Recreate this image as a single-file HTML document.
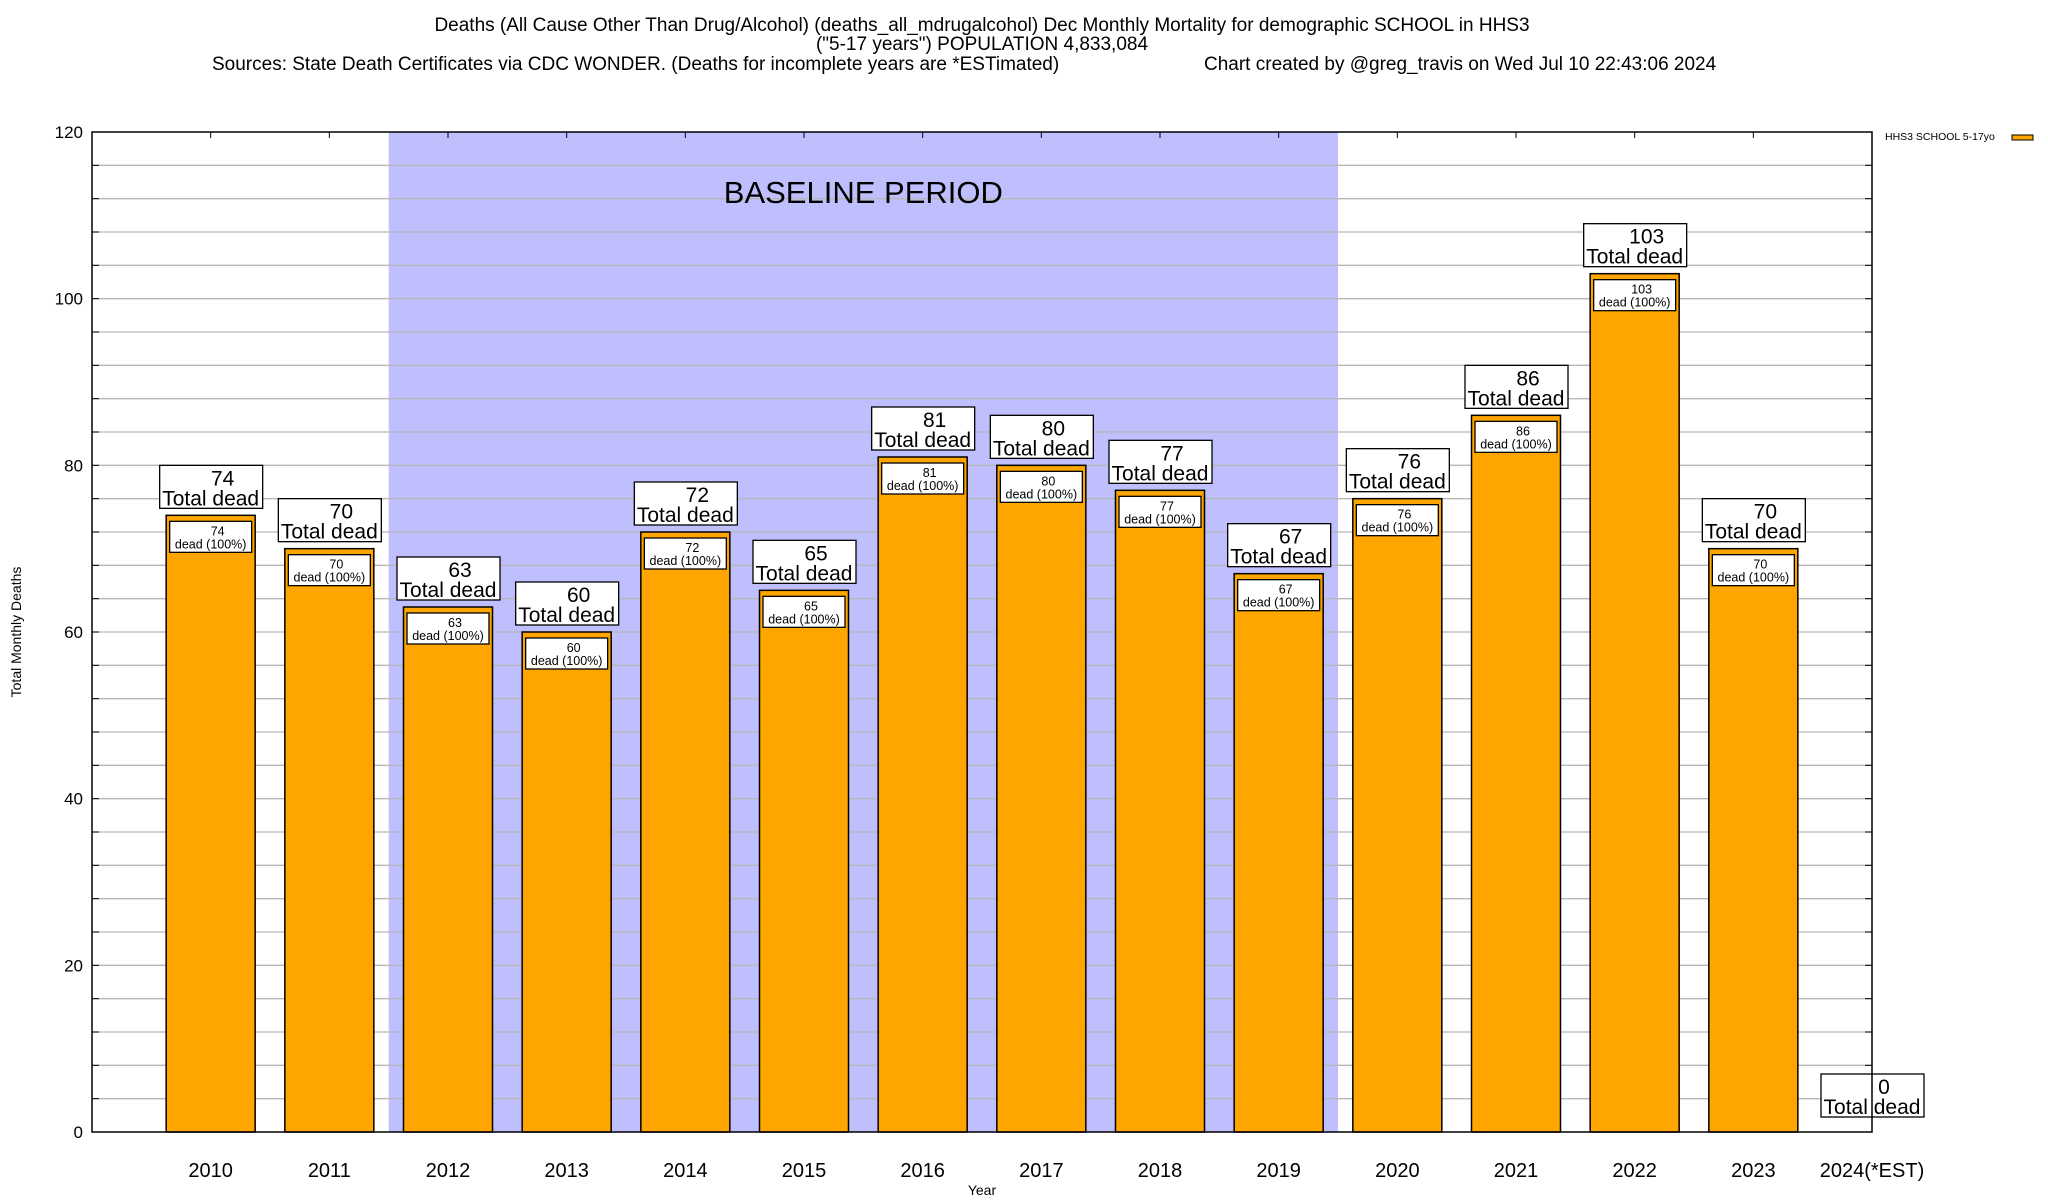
<!DOCTYPE html>
<html><head><meta charset="utf-8"><style>
body{margin:0;background:#fff}
svg{display:block;font-family:"Liberation Sans",Arial,sans-serif}
</style></head><body>
<svg id="chart" width="2048" height="1200" viewBox="0 0 2048 1200" xmlns="http://www.w3.org/2000/svg">
<g font-size="19" fill="#000">
<text x="982" y="31" text-anchor="middle">Deaths (All Cause Other Than Drug/Alcohol) (deaths_all_mdrugalcohol) Dec Monthly Mortality for demographic SCHOOL in HHS3</text>
<text x="982" y="50" text-anchor="middle">("5-17 years") POPULATION 4,833,084</text>
<text x="212" y="70">Sources: State Death Certificates via CDC WONDER. (Deaths for incomplete years are *ESTimated)</text>
<text x="1204" y="70">Chart created by @greg_travis on Wed Jul 10 22:43:06 2024</text>
</g>
<g id="plot"></g>
</svg>
<script>
const categories=["2010","2011","2012","2013","2014","2015","2016","2017","2018","2019","2020","2021","2022","2023","2024(*EST)"];
const values=[74,70,63,60,72,65,81,80,77,67,76,86,103,70,0];
const yTicks=[0,20,40,60,80,100,120];
const baselineRange=[2012,2019];
const L=92,T=132,R=1872,B=1132;
const NS="http://www.w3.org/2000/svg";
const g=document.getElementById('plot');
const X=i=>L+(R-L)*(i+1)/15;
const Y=v=>B-(B-T)*v/120;
function el(tag,attrs,parent){const e=document.createElementNS(NS,tag);for(const k in attrs)e.setAttribute(k,attrs[k]);(parent||g).appendChild(e);return e;}
const bi0=categories.indexOf(String(baselineRange[0])),bi1=categories.indexOf(String(baselineRange[1]));
const shade=el('rect',{x:X(bi0-0.5),y:T,width:X(bi1+0.5)-X(bi0-0.5),height:B-T,fill:'#bfbffd'});


for(let v=4;v<120;v+=4){const ln=el('line',{x1:L,x2:R,y1:Y(v),y2:Y(v),stroke:'#b8b8b8','stroke-width':1.3});


el('line',{x1:L,x2:L+7,y1:Y(v),y2:Y(v),stroke:'#000'});el('line',{x1:R-7,x2:R,y1:Y(v),y2:Y(v),stroke:'#000'});}
const bt=el('text',{x:(X(bi0-0.5)+X(bi1+0.5))/2,y:203,'text-anchor':'middle','font-size':31});
bt.textContent='BASELINE PERIOD';


yTicks.forEach(v=>{const t=el('text',{x:83,y:Y(v)+6,'text-anchor':'end','font-size':17});t.textContent=v;

});
values.forEach((v,i)=>{
 const cx=X(i),w=89;
 if(v>0){
 const b=el('rect',{x:cx-w/2,y:Y(v),width:w,height:B-Y(v),fill:'#ffa500',stroke:'#000','stroke-width':1.5});
 
 
 const ib=el('rect',{x:cx-41,y:Y(v)+6,width:82,height:31,fill:'#fff',stroke:'#000','stroke-width':1.3});
 
 
 const t1=el('text',{x:cx+7,y:Y(v)+20,'text-anchor':'middle','font-size':12.5});t1.textContent=v;
 const t2=el('text',{x:cx,y:Y(v)+33,'text-anchor':'middle','font-size':12.5});t2.textContent='dead (100%)';
 }
 const by=Y(v)-(v>0?50:58);
 const ob=el('rect',{x:cx-51,y:by,width:103,height:43,fill:'#fff',stroke:'#000','stroke-width':1.3});
 
 
 const o1=el('text',{x:cx+12,y:by+20,'text-anchor':'middle','font-size':21});o1.textContent=v;
 const o2=el('text',{x:cx,y:by+40,'text-anchor':'middle','font-size':21});o2.textContent='Total dead';
 el('line',{x1:cx,x2:cx,y1:T,y2:T+6,stroke:'#000'});
 const xl=el('text',{x:cx,y:1177,'text-anchor':'middle','font-size':20});xl.textContent=categories[i];
 
 
});
const fr=el('rect',{x:L,y:T,width:R-L,height:B-T,fill:'none',stroke:'#000','stroke-width':1.5});


const yt=el('text',{x:0,y:0,transform:'translate(21,632) rotate(-90)','text-anchor':'middle','font-size':14});yt.textContent='Total Monthly Deaths';


const xt=el('text',{x:982,y:1195,'text-anchor':'middle','font-size':14});xt.textContent='Year';


const lt=el('text',{x:1885,y:140,'font-size':10.5});lt.textContent='HHS3 SCHOOL 5-17yo';


const ls=el('rect',{x:2012,y:135,width:21,height:5,fill:'#ffa500',stroke:'#000','stroke-width':1});


</script>
</body></html>
